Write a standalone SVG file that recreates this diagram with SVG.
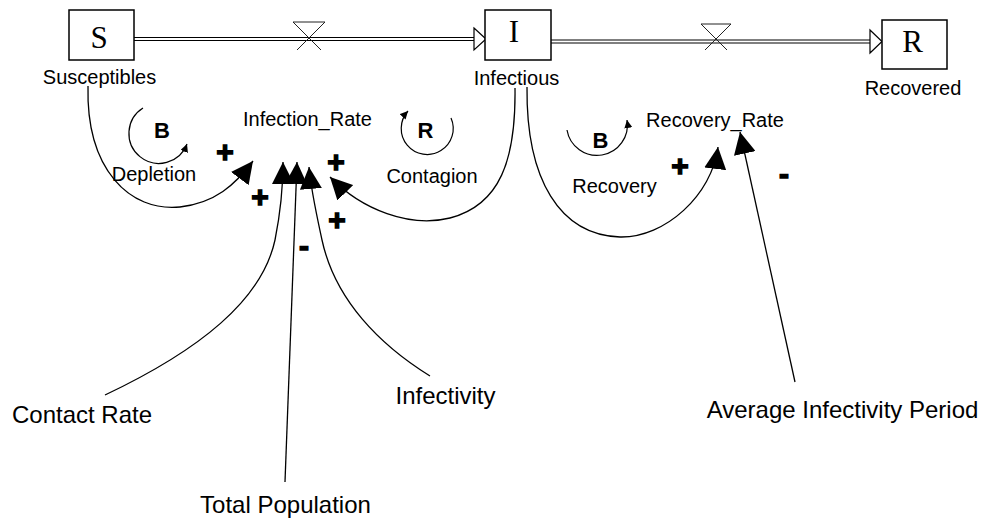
<svg xmlns="http://www.w3.org/2000/svg" width="982" height="523" viewBox="0 0 982 523">
<style>
  .lbl { font-family: "Liberation Sans", Arial, sans-serif; font-size: 20px; fill: #000; text-anchor: middle; }
  .big { font-family: "Liberation Sans", Arial, sans-serif; font-size: 24px; fill: #000; text-anchor: middle; }
  .stk { font-family: "Liberation Serif", "Times New Roman", serif; font-size: 31px; fill: #000; text-anchor: middle; }
  .loop { font-family: "Liberation Sans", Arial, sans-serif; font-size: 22px; font-weight: bold; fill: #000; text-anchor: middle; }
  .sign { font-family: "Liberation Sans", Arial, sans-serif; font-size: 30px; font-weight: bold; fill: #000; stroke: #000; stroke-width: 1.4; text-anchor: middle; dominant-baseline: central; }
  .box { fill: #fff; stroke: #000; stroke-width: 1.5; }
  .link { fill: none; stroke: #000; stroke-width: 1.3; marker-end: url(#ah); }
  .arc { fill: none; stroke: #000; stroke-width: 1.2; marker-end: url(#sa); }
  .pipe { stroke: #000; stroke-width: 1.2; fill: none; }
  .valve { stroke: #222; stroke-width: 1; fill: none; }
  .head { fill: #fff; stroke: #000; stroke-width: 1.2; }
</style>
<defs>
  <marker id="ah" viewBox="0 0 22 22" refX="22" refY="11" markerWidth="22" markerHeight="22" markerUnits="userSpaceOnUse" orient="auto">
    <path d="M0,0 L22,11 L0,22 Z" fill="#000"/>
  </marker>
  <marker id="sa" viewBox="0 0 10 10" refX="10" refY="5" markerWidth="8" markerHeight="8" markerUnits="userSpaceOnUse" orient="auto">
    <path d="M0,0 L10,5 L0,10 Z" fill="#000"/>
  </marker>
</defs>
<rect width="982" height="523" fill="#fff"/>

<g id="connectors">
  <g id="pipe-S-I">
    <line class="pipe" x1="134" y1="37.5" x2="474" y2="37.5"/>
    <line class="pipe" x1="134" y1="40.5" x2="474" y2="40.5"/>
    <polygon class="head" points="474,28 486,39 474,50"/>
  </g>
  <g id="pipe-I-R">
    <line class="pipe" x1="551" y1="40" x2="870" y2="40"/>
    <line class="pipe" x1="551" y1="43" x2="870" y2="43"/>
    <polygon class="head" points="870,30 882,41.5 870,53"/>
  </g>
  <path id="link-depletion" class="link" d="M88,86 C86,170 130,212 180,207 C215,203 235,185 253,161"/>
  <path id="link-contagion" class="link" d="M515,88 C516,160 500,205 450,218 C410,228 362,210 330,177"/>
  <path id="link-recovery" class="link" d="M527,87 C526,180 560,235 620,237 C665,238 712,195 718,147"/>
  <path id="link-contact" class="link" d="M105,395 C200,350 262,300 275,240 C281,210 283,190 283,162"/>
  <path id="link-totalpop" class="link" d="M285,482 L297,162"/>
  <path id="link-infectivity" class="link" d="M430,376 C380,345 335,300 322,240 C316,212 311,190 309,167"/>
  <path id="link-avgperiod" class="link" d="M795,382 L740,132"/>
</g>

<g id="S">
  <rect class="box" x="69" y="10" width="65" height="50"/>
  <text class="stk" x="99" y="48">S</text>
  <text class="lbl" x="99.5" y="84">Susceptibles</text>
</g>
<g id="I">
  <rect class="box" x="485" y="10" width="66" height="50"/>
  <text class="stk" x="514" y="42">I</text>
  <text class="lbl" x="516.5" y="85">Infectious</text>
</g>
<g id="R">
  <rect class="box" x="882" y="20" width="65" height="49"/>
  <text class="stk" x="912.5" y="52">R</text>
  <text class="lbl" x="913" y="95">Recovered</text>
</g>

<g id="Infection_Rate">
  <path class="valve" d="M293,22 L325,22 M293,22 L321,50 M325,22 L297,50"/>
  <text class="lbl" x="307.5" y="126">Infection_Rate</text>
</g>
<g id="Recovery_Rate">
  <path class="valve" d="M701,24 L731,24 M701,24 L727,50 M731,24 L705,50"/>
  <text class="lbl" x="715" y="127">Recovery_Rate</text>
</g>

<g id="Contact_Rate"><text class="big" x="82" y="423">Contact Rate</text></g>
<g id="Total_Population"><text class="big" x="285.5" y="513">Total Population</text></g>
<g id="Infectivity"><text class="big" x="445.5" y="404">Infectivity</text></g>
<g id="Average_Infectivity_Period"><text class="big" x="842.5" y="418">Average Infectivity Period</text></g>

<g id="loop-depletion">
  <path class="arc" d="M143,108 A30,30 0 1 0 187,144"/>
  <text class="loop" x="162" y="138">B</text>
  <text class="lbl" x="154" y="181">Depletion</text>
</g>
<g id="loop-contagion">
  <path class="arc" d="M451,118 A26,26 0 1 1 408,111"/>
  <text class="loop" x="425.5" y="138">R</text>
  <text class="lbl" x="432" y="183">Contagion</text>
</g>
<g id="loop-recovery">
  <path class="arc" d="M567,130 A30,30 0 1 0 627,120"/>
  <text class="loop" x="600.5" y="148">B</text>
  <text class="lbl" x="614.5" y="193">Recovery</text>
</g>

<g id="polarities">
  <text class="sign" x="225" y="151">+</text>
  <text class="sign" x="260" y="196">+</text>
  <text class="sign" x="336" y="161">+</text>
  <text class="sign" x="337" y="219">+</text>
  <text class="sign" x="680" y="165">+</text>
  <text class="sign" x="304" y="245">-</text>
  <text class="sign" x="784" y="173">-</text>
</g>
</svg>
